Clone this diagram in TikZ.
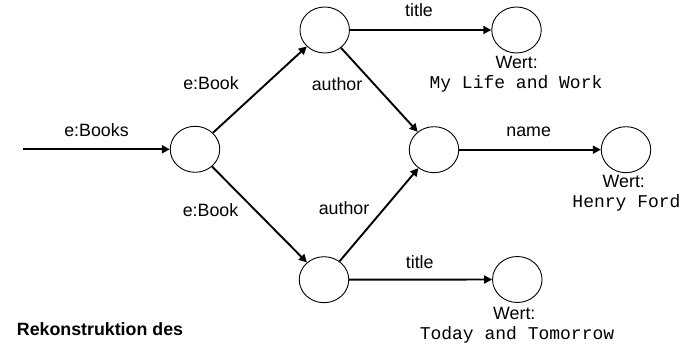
\documentclass[tikz,border=0pt]{standalone}
\usepackage{fontspec}
\setmainfont{Liberation Sans}
\newfontfamily\valfont{Liberation Mono}
\usetikzlibrary{arrows.meta,shapes.geometric}
\begin{document}
\begin{tikzpicture}[x=1pt,y=-1pt,
  res/.style={draw, ellipse, line width=0.9pt, minimum width=49.5pt, minimum height=46pt, inner sep=0pt},
  edge/.style={line width=1.9pt, -{Triangle[length=8pt,width=8pt]}},
  lab/.style={anchor=base, inner sep=0pt, font=\fontsize{17.8}{20}\selectfont},
  val/.style={anchor=base, inner sep=0pt, font=\valfont\fontsize{18}{20}\selectfont}]
\useasboundingbox (0,0) rectangle (694,344);

% resources
\node[res] (root) at (195,149.3) {};
\node[res] (b1)   at (324.7,30) {};
\node[res] (b2)   at (324,279.7) {};
\node[res] (au)   at (434,149.7) {};
\node[res] (t1)   at (516.5,30) {};
\node[res] (nm)   at (626,149.7) {};
\node[res] (t2)   at (517.3,279.5) {};
\coordinate (start) at (22.7,149.3);

% properties
\draw[edge] (start) -- (root);
\draw[edge] (root) -- (b1);
\draw[edge] (root) -- (b2);
\draw[edge] (b1) -- (au);
\draw[edge] (b2) -- (au);
\draw[edge] (b1) -- (t1);
\draw[edge] (au) -- (nm);
\draw[edge] (b2) -- (t2);

% property labels
\node[lab] (lbooks)   at (96.5,136.7) {e:Books};
\node[lab] (lbook1)   at (211,90) {e:Book};
\node[lab] (lbook2)   at (210.5,216.7) {e:Book};
\node[lab] (ltitle1)  at (419,16.7) {title};
\node[lab] (lauthor1) at (337,90.7) {author};
\node[lab] (lname)    at (528.7,136.7) {name};
\node[lab] (lauthor2) at (344,215) {author};
\node[lab] (ltitle2)  at (419.7,268.3) {title};

% literal values
\node[lab] (w1) at (516.7,68.3) {Wert:};
\node[val] (v1) at (516,88.3) {My Life and Work};
\node[lab] (w2) at (623.8,188) {Wert:};
\node[val] (v2) at (626.5,208) {Henry Ford};
\node[lab] (w3) at (514.3,320) {Wert:};
\node[val] (v3) at (517,339.3) {Today and Tomorrow};

% caption
\node[lab, anchor=base west, font=\bfseries\fontsize{17.8}{20}\selectfont] (cap) at (16.7,336) {Rekonstruktion des};
\end{tikzpicture}
\end{document}
